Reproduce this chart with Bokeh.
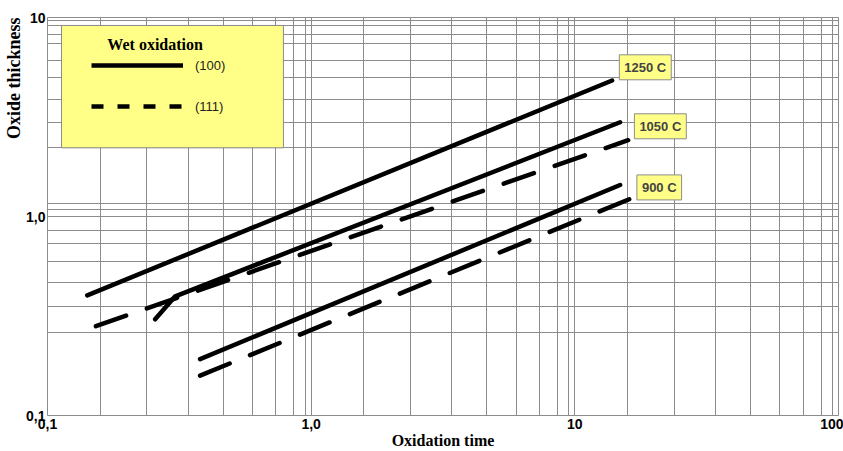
import math
from bokeh.plotting import figure
from bokeh.models import FixedTicker, Label, Legend, LegendItem, Title, BoxAnnotation
from bokeh.embed import file_html
from bokeh.resources import INLINE

# ---- data (oxidation time, oxide thickness) ----
t_1250_100 = [0.1415, 13.85]
d_1250_100 = [0.4015, 4.825]
t_1050_100 = [0.256, 0.305, 14.85]
d_1050_100 = [0.3045, 0.397, 2.975]
t_1050_111 = [0.1526, 15.93]
d_1050_111 = [0.281, 2.418]
t_900_100 = [0.379, 14.85]
d_900_100 = [0.192, 1.440]
t_900_111 = [0.379, 16.2]
d_900_111 = [0.1585, 1.226]

temp_labels = ["1250 C", "1050 C", "900 C"]
temp_label_t = [18.5, 21.1, 20.9]
temp_label_d = [5.62, 2.84, 1.40]

# ---- ticks / grid ----
x_major = [0.1, 1.0, 10.0, 100.0]
x_major_labels = ["0,1", "1,0", "10", "100"]
x_minor = [0.1585, 0.2382, 0.3412, 0.4634, 0.5984, 0.7345, 0.859, 0.9484,
           1.585, 2.382, 3.412, 4.634, 5.984, 7.345, 8.59, 9.484,
           15.85, 23.82, 34.12, 46.34, 59.84, 73.45, 85.9, 94.84]
y_major = [0.1, 1.0, 10.0]
y_major_labels = ["0,1", "1,0", "10"]
y_minor = [0.262, 0.355, 0.468, 0.592, 0.728, 0.851, 1.08, 1.158,
           2.213, 2.976, 3.89, 4.98, 6.07, 7.36, 8.26, 9.09, 9.63]

GRID = "#8c8c8c"
YELLOW = "#FFFF88"
NAN = float("nan")

p = figure(width=843, height=451, x_axis_type="log", y_axis_type="log",
           x_range=(0.1, 100), y_range=(0.1, 10),
           output_backend="svg", toolbar_location=None,
           min_border_left=47, min_border_right=5, min_border_top=17, min_border_bottom=34)

xt = FixedTicker(ticks=x_major, minor_ticks=x_minor)
yt = FixedTicker(ticks=y_major, minor_ticks=y_minor)
p.xaxis.ticker = xt
p.xgrid.ticker = xt
p.yaxis.ticker = yt
p.ygrid.ticker = yt
p.xaxis.major_label_overrides = dict(zip(x_major, x_major_labels))
p.yaxis.major_label_overrides = dict(zip(y_major, y_major_labels))

for ax in (p.xaxis, p.yaxis):
    ax.axis_line_color = None
    ax.major_tick_line_color = None
    ax.minor_tick_line_color = None
    ax.major_tick_out = 0
    ax.major_tick_in = 0
    ax.minor_tick_out = 0
    ax.minor_tick_in = 0
    ax.major_label_text_font = "Liberation Sans"
    ax.major_label_text_font_style = "bold"
    ax.major_label_text_font_size = "14px"
    ax.major_label_text_color = "black"
p.xaxis.major_label_standoff = 3
p.yaxis.major_label_standoff = 2
p.yaxis.axis_label_standoff = 0

p.xaxis.axis_label = "Oxidation time"
p.xaxis.axis_label_standoff = 0
p.xaxis.axis_label_text_font = "Liberation Serif"
p.xaxis.axis_label_text_font_style = "bold"
p.xaxis.axis_label_text_font_size = "16px"
p.xaxis.axis_label_text_color = "black"

ytitle = Title(text="Oxide thickness", align="right", standoff=0,
               text_font="Liberation Serif", text_font_style="bold",
               text_font_size="18px", text_color="black")
p.add_layout(ytitle, "left")

p.grid.grid_line_color = GRID
p.grid.minor_grid_line_color = GRID
p.grid.grid_line_width = 1
p.grid.minor_grid_line_width = 1
p.outline_line_color = GRID
p.background_fill_color = "white"

LW = 4.5
p.line(t_1250_100, d_1250_100, line_width=LW, color="black", line_cap="round", line_join="round")
p.line(t_1050_100, d_1050_100, line_width=LW, color="black", line_cap="round", line_join="round")
p.line(t_1050_111, d_1050_111, line_width=LW, color="black", line_cap="round", line_dash="32 22")
p.line(t_900_100, d_900_100, line_width=LW, color="black", line_cap="round", line_join="round")
p.line(t_900_111, d_900_111, line_width=LW, color="black", line_cap="round", line_dash="32 22")

# legend box (yellow panel) behind a transparent legend
p.add_layout(BoxAnnotation(left=0.113, right=0.785, bottom=2.213, top=9.12,
                           fill_color=YELLOW, fill_alpha=1.0,
                           line_color=GRID, line_width=1, line_alpha=1.0))

p.add_layout(Label(x=0.256, y=7.3, text="Wet oxidation", text_align="center", text_baseline="middle",
                   text_font="Liberation Serif", text_font_style="bold", text_font_size="16px",
                   text_color="black"))

leg_solid = p.line([NAN], [NAN], line_width=LW, color="black")
leg_dash = p.line([NAN], [NAN], line_width=LW, color="black", line_dash="12 14")
legend = Legend(items=[LegendItem(label="(100)", renderers=[leg_solid]),
                       LegendItem(label="(111)", renderers=[leg_dash])],
                location=(14, 267), margin=0, padding=30, spacing=17,
                glyph_width=92, glyph_height=24, label_standoff=12, label_width=58,
                background_fill_alpha=0.0, border_line_color="black", border_line_alpha=0.0,
                label_text_font="Liberation Sans", label_text_font_size="13px",
                label_text_color="#222222")
p.add_layout(legend)

for t, d, s in zip(temp_label_t, temp_label_d, temp_labels):
    p.add_layout(Label(x=t, y=d, text=s, text_align="center", text_baseline="middle",
                       text_font="Liberation Sans", text_font_style="bold", text_font_size="13px",
                       background_fill_color=YELLOW, background_fill_alpha=1.0,
                       border_line_color=GRID, padding=5))

open("out.html", "w").write(file_html(p, INLINE))
